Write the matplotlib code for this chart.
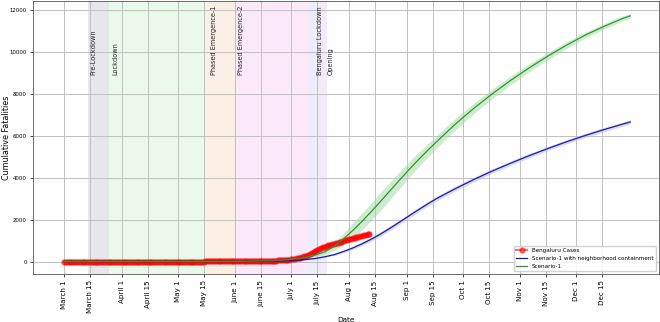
import pandas as pd
import matplotlib
matplotlib.use('Agg')
import matplotlib.pyplot as plt

# Bengaluru observed cumulative fatalities, one value per day from March 1
bengaluru_deaths = [
    0, 0, 0, 0, 0, 0, 0, 0, 0, 0, 0, 0, 0, 0, 0, 0, 0, 0, 0, 0,
    1, 1, 1, 1, 2, 2, 2, 2, 2, 3, 3, 3, 3, 3, 3, 3, 3, 4, 4, 4,
    4, 4, 4, 4, 4, 4, 4, 4, 4, 4, 4, 4, 4, 4, 5, 5, 5, 5, 5, 5,
    5, 5, 5, 5, 5, 5, 5, 5, 5, 5, 5, 5, 5, 5, 5, 5, 6, 6, 6, 6,
    6, 6, 6, 6, 6, 6, 7, 7, 7, 7, 7, 7, 8, 8, 8, 8, 9, 9, 9, 10,
    11, 12, 14, 15, 16, 18, 20, 22, 24, 28, 32, 36, 40, 45, 50, 55, 60, 66, 72, 80,
    88, 97, 108, 120, 135, 150, 170, 190, 215, 245, 280, 320, 360, 410, 460, 510, 560, 600, 640, 680,
    710, 740, 770, 800, 830, 860, 885, 910, 935, 960, 990, 1010, 1040, 1060, 1090, 1110, 1140, 1160, 1190, 1210,
    1240, 1260, 1290, 1310, 1330,
]

# model output, days since March 1
model_days = [0, 20, 40, 60, 80, 90, 100, 110, 115, 120, 125, 130, 135, 140, 145, 150,
              155, 160, 165, 170, 175, 180, 185, 190, 195, 200, 210, 220, 230, 240,
              250, 260, 270, 280, 290, 300, 304]
scenario1 = [0, 0, 0, 1, 3, 8, 18, 40, 60, 90, 140, 210, 320, 470, 720, 1080,
             1480, 1920, 2390, 2880, 3380, 3880, 4370, 4840, 5290, 5720, 6560, 7320, 8020, 8670,
             9270, 9830, 10350, 10830, 11240, 11620, 11740]
scenario1_spread = [0, 0, 0, 0, 1, 2, 3, 5, 8, 15, 25, 40, 70, 120, 190, 280,
                    350, 400, 420, 430, 420, 400, 380, 350, 320, 300, 280, 250, 230, 210,
                    190, 170, 160, 140, 130, 120, 120]
containment = [0, 0, 0, 0, 1, 3, 7, 15, 25, 40, 65, 100, 150, 230, 330, 480,
               650, 850, 1070, 1320, 1590, 1880, 2170, 2460, 2740, 3010, 3480, 3920, 4330, 4710,
               5070, 5410, 5730, 6030, 6310, 6570, 6670]
containment_spread = [0, 0, 0, 0, 0, 1, 1, 2, 3, 5, 8, 10, 15, 25, 40, 60,
                      75, 90, 100, 105, 110, 110, 110, 110, 110, 110, 110, 110, 105, 105,
                      105, 100, 100, 100, 100, 100, 100]

# intervention phases: (start day, end day, colour)
phase_spans = [(13, 24, '#bdbdc6'), (24, 77, '#c4f0c4'), (77, 92, '#f5d2b8'),
               (92, 131, '#f4c2f0'), (131, 135, '#c9cdf2'), (135, 141, '#d9c6f2')]
phase_labels = ['Pre-Lockdown', 'Lockdown', 'Phased Emergence-1', 'Phased Emergence-2',
                'Bengaluru Lockdown', 'Opening']
phase_label_days = [16, 27.5, 80.5, 95, 137.5, 143]

tick_dates = ['2020-03-01', '2020-03-15', '2020-04-01', '2020-04-15', '2020-05-01',
              '2020-05-15', '2020-06-01', '2020-06-15', '2020-07-01', '2020-07-15',
              '2020-08-01', '2020-08-15', '2020-09-01', '2020-09-15', '2020-10-01',
              '2020-10-15', '2020-11-01', '2020-11-15', '2020-12-01', '2020-12-15']
tick_labels = ['March 1', 'March 15', 'April 1', 'April 15', 'May 1', 'May 15', 'June 1',
               'June 15', 'July 1', 'July 15', 'Aug 1', 'Aug 15', 'Sep 1', 'Sep 15',
               'Oct 1', 'Oct 15', 'Nov 1', 'Nov 15', 'Dec 1', 'Dec 15']

start = pd.Timestamp('2020-03-01')
day = pd.Timedelta(days=1)

fig = plt.figure(figsize=(6.6, 3.22), dpi=100)
ax = fig.add_axes([0.05, 0.149, 0.948, 0.848])

for (s, e, c) in phase_spans:
    ax.axvspan(start + s * day, start + e * day, color=c, alpha=0.35, lw=0)

obs_x = [start + i * day for i in range(len(bengaluru_deaths))]
ax.plot(obs_x, bengaluru_deaths, 'r-o', ms=3.6, lw=1.5, alpha=0.55, label='Bengaluru Cases')

mx = [start + d * day for d in model_days]
lo = [v - s for v, s in zip(containment, containment_spread)]
hi = [v + s for v, s in zip(containment, containment_spread)]
ax.fill_between(mx, lo, hi, color='#4040c0', alpha=0.2, lw=0)
ax.plot(mx, containment, color='#1a1aa0', lw=0.9,
        label='Scenario-1 with neighborhood containment')

lo = [v - s for v, s in zip(scenario1, scenario1_spread)]
hi = [v + s for v, s in zip(scenario1, scenario1_spread)]
ax.fill_between(mx, lo, hi, color='#40b040', alpha=0.25, lw=0)
ax.plot(mx, scenario1, color='#2a9a2a', lw=0.9, label='Scenario-1')

for lab, d in zip(phase_labels, phase_label_days):
    ax.text(start + d * day, 8900, lab, rotation=90, ha='center', va='bottom',
            fontsize=4.7, color='#222222')

ax.set_xlim(start - 16.6 * day, start + 319.3 * day)
ax.set_xticks([pd.Timestamp(t) for t in tick_dates])
ax.set_xticklabels(tick_labels, rotation=90, fontsize=5.1)
ax.tick_params(axis='y', labelsize=3.9, length=2.5, width=0.5, pad=2)
ax.tick_params(axis='x', length=2.5, width=0.5, pad=2)
ax.grid(True, color='#c0c0c0', lw=0.7)
for sp in ax.spines.values():
    sp.set_color('#555555')
    sp.set_linewidth(0.6)

ax.set_xlabel('Date', fontsize=5.2)
ax.xaxis.set_label_coords(0.5, -0.158)
ax.set_ylabel('Cumulative Fatalities', fontsize=5.8)
ax.yaxis.set_label_coords(-0.035, 0.5)
ax.legend(loc='lower right', fontsize=4.1, framealpha=0.9)

fig.savefig('out.png', dpi=100)
